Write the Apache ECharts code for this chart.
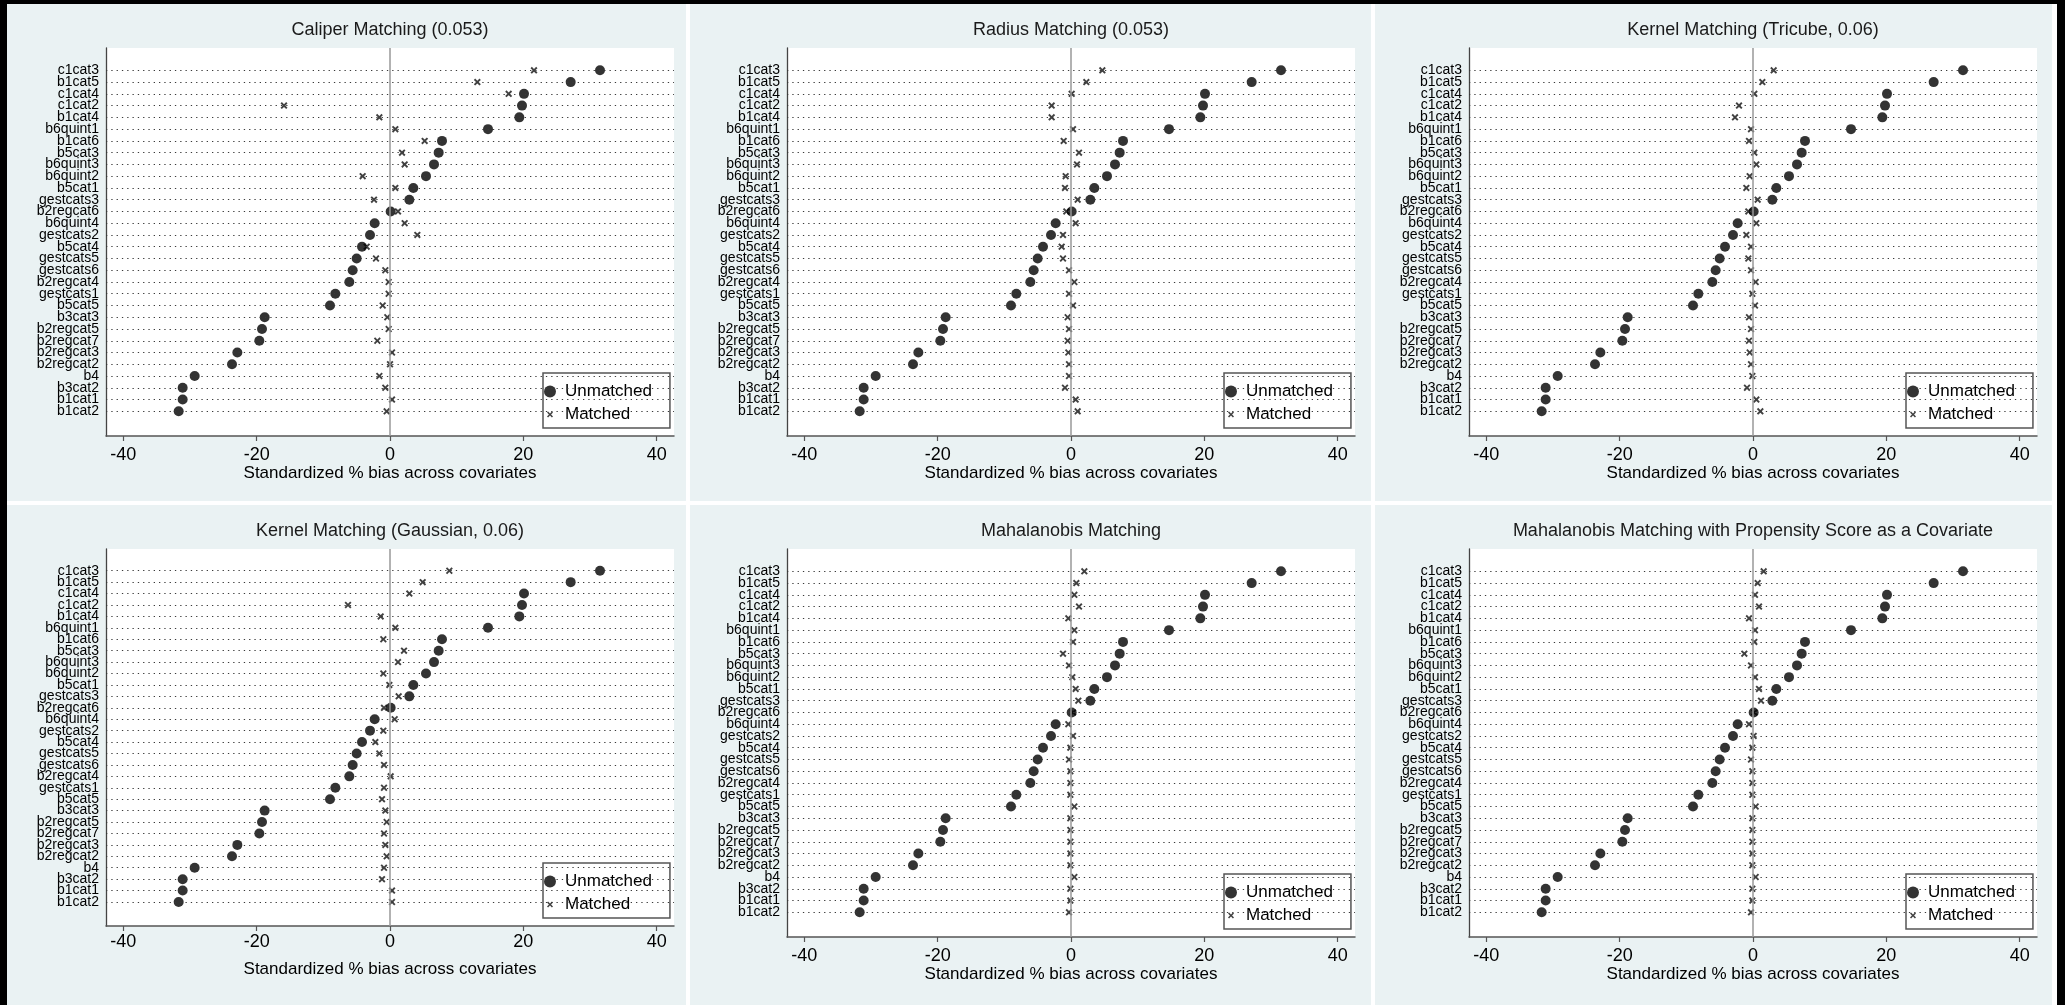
<!DOCTYPE html>
<html>
<head>
<meta charset="utf-8">
<title>Standardized % bias across covariates</title>
<script src="https://cdn.jsdelivr.net/npm/echarts@6/dist/echarts.min.js"></script>
<style>
html, body { margin: 0; padding: 0; background: #fff; }
#wrap { position: relative; width: 2065px; height: 1005px; overflow: hidden; background: #fff; }
.panel { position: absolute; background: #eaf2f3; }
.edge { position: absolute; background: #000; }
#chart { position: absolute; left: 0; top: 0; width: 2065px; height: 1005px; }
</style>
</head>
<body>
<div id="wrap">
  <div class="edge" style="left:0;top:0;width:2065px;height:4px"></div>
  <div class="edge" style="left:0;top:0;width:7px;height:1005px"></div>
  <div class="edge" style="left:2057px;top:0;width:8px;height:1005px"></div>
  <div class="panel" style="left:7px;top:4px;width:679px;height:497px"></div>
  <div class="panel" style="left:690px;top:4px;width:681px;height:497px"></div>
  <div class="panel" style="left:1375px;top:4px;width:677px;height:497px"></div>
  <div class="panel" style="left:7px;top:505px;width:679px;height:500px"></div>
  <div class="panel" style="left:690px;top:505px;width:681px;height:500px"></div>
  <div class="panel" style="left:1375px;top:505px;width:677px;height:500px"></div>
  <div id="chart"></div>
</div>
<script>
// covariates, top to bottom
var covariates = ['c1cat3', 'b1cat5', 'c1cat4', 'c1cat2', 'b1cat4', 'b6quint1', 'b1cat6', 'b5cat3',
  'b6quint3', 'b6quint2', 'b5cat1', 'gestcats3', 'b2regcat6', 'b6quint4', 'gestcats2', 'b5cat4',
  'gestcats5', 'gestcats6', 'b2regcat4', 'gestcats1', 'b5cat5', 'b3cat3', 'b2regcat5', 'b2regcat7',
  'b2regcat3', 'b2regcat2', 'b4', 'b3cat2', 'b1cat1', 'b1cat2'];

// standardized % bias before matching (same in every panel)
var unmatched = [31.5, 27.1, 20.1, 19.8, 19.4, 14.7, 7.8, 7.3, 6.6, 5.4, 3.5, 2.9, 0.1, -2.3, -3.0,
  -4.2, -5.0, -5.6, -6.1, -8.2, -9.0, -18.8, -19.2, -19.6, -22.9, -23.7, -29.3, -31.1, -31.1, -31.7];

// after matching, one array per method
var matchedCaliper = [21.6, 13.1, 17.8, -15.9, -1.6, 0.8, 5.2, 1.8, 2.2, -4.1, 0.8, -2.4, 1.2, 2.2, 4.1,
  -3.5, -2.1, -0.7, -0.2, -0.2, -1.1, -0.4, -0.2, -1.9, 0.3, 0.0, -1.6, -0.7, 0.3, -0.5];
var matchedRadius = [4.7, 2.3, 0.1, -2.9, -2.9, 0.3, -1.1, 1.2, 0.9, -0.8, -0.9, 1.0, -0.7, 0.7, -1.2,
  -1.4, -1.2, -0.3, 0.5, -0.3, 0.3, -0.5, -0.3, -0.5, -0.4, -0.3, -0.3, -0.9, 0.7, 1.0];
var matchedTricube = [3.1, 1.4, 0.2, -2.1, -2.7, -0.3, -0.6, 0.2, 0.5, -0.5, -1.0, 0.7, -0.7, 0.5, -1.0,
  -0.3, -0.7, -0.3, 0.4, -0.1, 0.3, -0.6, -0.3, -0.6, -0.5, -0.3, -0.1, -0.9, 0.5, 1.1];
var matchedGaussian = [8.9, 4.9, 2.9, -6.3, -1.4, 0.8, -1.0, 2.1, 1.2, -1.0, -0.1, 1.3, -0.9, 0.7, -1.0,
  -2.2, -1.6, -0.9, 0.1, -0.9, -1.2, -0.7, -0.5, -0.9, -0.7, -0.5, -0.9, -1.2, 0.3, 0.3];
var matchedMahal = [2.0, 0.8, 0.5, 1.2, -0.4, 0.5, 0.3, -1.2, -0.3, 0.2, 0.7, 1.1, 0.3, -0.4, 0.3,
  -0.1, -0.3, -0.1, -0.1, -0.1, 0.5, -0.1, -0.1, -0.1, -0.1, -0.1, 0.5, -0.1, -0.1, -0.3];
var matchedMahalPs = [1.6, 0.7, 0.3, 0.9, -0.6, 0.3, 0.2, -1.3, -0.3, 0.3, 0.9, 1.2, 0.2, -0.6, 0.1,
  -0.1, -0.3, -0.1, -0.1, -0.1, 0.4, -0.1, -0.1, -0.1, -0.1, -0.1, 0.4, -0.1, -0.1, -0.3];

var panelTitles = ['Caliper Matching (0.053)', 'Radius Matching (0.053)', 'Kernel Matching (Tricube, 0.06)',
  'Kernel Matching (Gaussian, 0.06)', 'Mahalanobis Matching',
  'Mahalanobis Matching with Propensity Score as a Covariate'];
var xTicks = [-40, -20, 0, 20, 40];
var xTitle = 'Standardized % bias across covariates';

var matchedByPanel = [matchedCaliper, matchedRadius, matchedTricube, matchedGaussian, matchedMahal, matchedMahalPs];

// layout of the six plot regions
var boxes = [
  { left: 106, top: 48, width: 568, height: 388, labelGap: 10, nameGap: 29 },
  { left: 787, top: 48, width: 568, height: 388, labelGap: 10, nameGap: 29 },
  { left: 1469, top: 48, width: 568, height: 388, labelGap: 10, nameGap: 29 },
  { left: 106, top: 549, width: 568, height: 377, labelGap: 7, nameGap: 35 },
  { left: 787, top: 549, width: 568, height: 388, labelGap: 10, nameGap: 29 },
  { left: 1469, top: 549, width: 568, height: 388, labelGap: 10, nameGap: 29 }
];

var FONT = "'Liberation Sans', Arial, Helvetica, sans-serif";
var crossPath = 'path://M0,1.9 L1.9,0 L5,3.1 L8.1,0 L10,1.9 L6.9,5 L10,8.1 L8.1,10 L5,6.9 L1.9,10 L0,8.1 L3.1,5 Z';
var crossLegend = 'path://M0,0 L0.01,0 L0,0.01 Z M20,20 L19.99,20 L20,19.99 Z ' +
  'M5,6.8 L6.8,5 L10,8.2 L13.2,5 L15,6.8 L11.8,10 L15,13.2 L13.2,15 L10,11.8 L6.8,15 L5,13.2 L8.2,10 Z';

var yMin = -1.9, yMax = 31.1;
var rowIdx = covariates.map(function (c, i) { return i; });
// blank labels at both ends so the first/last names are not dropped as overlapping
var yLabelValues = [yMin].concat(rowIdx, [yMax]);

var option = {
  animation: false,
  textStyle: { fontFamily: FONT },
  grid: [], xAxis: [], yAxis: [], title: [], legend: [], series: []
};

boxes.forEach(function (b, k) {
  option.grid.push({
    left: b.left, top: b.top, width: b.width, height: b.height,
    show: true, backgroundColor: '#fff', borderWidth: 0
  });
  option.title.push({
    text: panelTitles[k],
    left: b.left + b.width / 2, top: b.top - 27, textAlign: 'center', padding: 0,
    textStyle: { fontFamily: FONT, fontSize: 18, fontWeight: 'normal', color: '#1a1a1a' }
  });
  option.xAxis.push({
    type: 'value', gridIndex: k, min: -42.6, max: 42.6,
    axisLine: { show: true, onZero: false, lineStyle: { color: '#555', width: 1.5 } },
    axisTick: { show: true, customValues: xTicks, length: 5, lineStyle: { color: '#555', width: 1.2 } },
    axisLabel: { customValues: xTicks, fontSize: 18, color: '#000', margin: b.labelGap },
    splitLine: { show: false },
    name: xTitle, nameLocation: 'middle', nameGap: b.nameGap,
    nameTextStyle: { fontSize: 17, color: '#000' }
  });
  option.yAxis.push({
    type: 'value', gridIndex: k, inverse: true, min: yMin, max: yMax,
    axisLine: { show: true, onZero: false, lineStyle: { color: '#444', width: 1.3 } },
    axisTick: { show: false },
    axisLabel: {
      customValues: yLabelValues, fontSize: 14, color: '#000', margin: 7,
      formatter: function (v) { return covariates[v] || ''; }
    },
    splitLine: { show: false }
  });
  option.legend.push({
    left: b.left + 437, top: b.top + b.height - 63,
    orient: 'vertical', selectedMode: false,
    itemWidth: 20, itemHeight: 12, itemGap: 6,
    padding: [10, 18, 5, 1],
    backgroundColor: '#fff', borderColor: '#555', borderWidth: 1.5,
    textStyle: { fontFamily: FONT, fontSize: 17, color: '#000' },
    data: [{ name: 'Unmatched', icon: 'circle' }, { name: 'Matched', icon: crossLegend }]
  });

  var rowLines = rowIdx.map(function (i) { return { yAxis: i }; });
  rowLines.push({ xAxis: 0, lineStyle: { type: 'solid', color: '#999', width: 1.5 } });
  option.series.push({
    name: 'guides', type: 'scatter', xAxisIndex: k, yAxisIndex: k, data: [], silent: true, z: 1,
    markLine: {
      silent: true, symbol: 'none', animation: false, label: { show: false },
      lineStyle: { type: [1.3, 4], color: '#3a3a3a', width: 1.2 },
      data: rowLines
    }
  });
  option.series.push({
    name: 'Matched', type: 'scatter', xAxisIndex: k, yAxisIndex: k, z: 3,
    symbol: crossPath, symbolSize: 7,
    itemStyle: { color: '#111' },
    data: matchedByPanel[k].map(function (v, i) { return [v, i]; })
  });
  option.series.push({
    name: 'Unmatched', type: 'scatter', xAxisIndex: k, yAxisIndex: k, z: 4,
    symbol: 'circle', symbolSize: 10,
    itemStyle: { color: '#000' },
    data: unmatched.map(function (v, i) { return [v, i]; })
  });
});

var chart = echarts.init(document.getElementById('chart'));
chart.setOption(option);
</script>
</body>
</html>
